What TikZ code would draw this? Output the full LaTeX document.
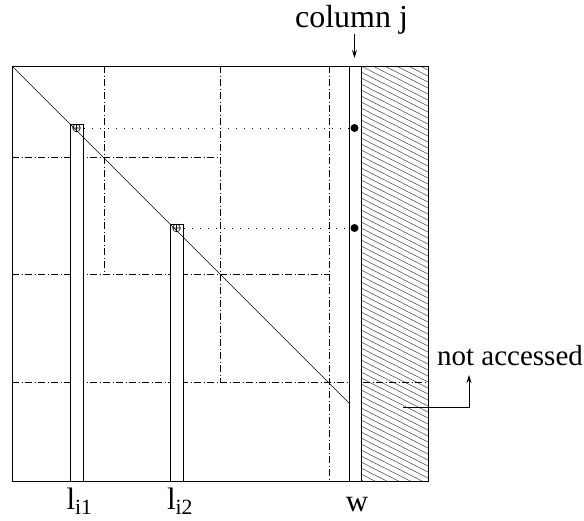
\documentclass[tikz,border=0pt]{standalone}
\usepackage{fontspec}
\setmainfont{Liberation Serif}
\usetikzlibrary{arrows.meta, positioning}

\begin{document}
\begin{tikzpicture}[x=1pt, y=-1pt, every node/.style={inner sep=0pt},
    blockline/.style={line width=0.8pt, dash pattern=on 7pt off 2.5pt on 1pt off 2.5pt},
    rowline/.style={line width=0.8pt, dash pattern=on 1pt off 7pt},
    strip/.style={draw, line width=0.9pt},
    lbl/.style={font=\fontsize{31}{36}\selectfont, anchor=base}]
        \useasboundingbox (0,0) rectangle (584,520);

        % not accessed part
        \begin{scope}
          \clip (361,66) rectangle (428,481);
          \foreach \y in {30,36,...,486}
            \draw[black!70, line width=0.55pt] (361,\y) -- (428,\y+34);
        \end{scope}

        % matrix and diagonal
        \draw[line width=1pt] (12,66) rectangle (428,481);
        \draw[line width=0.7pt] (12,66) -- (349,403);

        % blocks
        \draw[blockline] (104,66) -- (104,274);
        \draw[blockline] (220,66) -- (220,382);
        \draw[blockline] (329,66) -- (329,481);
        \draw[blockline] (12,157) -- (220,157);
        \draw[blockline] (12,274) -- (329,274);
        \draw[blockline] (12,382) -- (428,382);

        % columns
        \draw[strip, fill=white] (70,124) rectangle (83,481);
        \draw[strip, fill=white] (170,224) rectangle (183,481);
        \draw[strip, fill=white] (349,66) rectangle (361,481);
        \draw[line width=0.7pt] (70,124) -- (83,137) (170,224) -- (183,237);

        \draw[line width=0.6pt] (76.5,128) circle (3.8) (72.7,128) -- (80.3,128) (76.5,124.2) -- (76.5,131.8);
        \draw[line width=0.6pt] (176.5,228) circle (3.8) (172.7,228) -- (180.3,228) (176.5,224.2) -- (176.5,231.8);

        \draw[rowline] (84,128) -- (351,128);
        \draw[rowline] (184,228) -- (351,228);
        \fill (354.5,128) circle (4);
        \fill (354.5,228) circle (4);

        % labels
        \node[lbl] (li1) at (79.5,509) {l\textsubscript{i1}};
        \node[lbl] (li2) at (180,509) {l\textsubscript{i2}};
        \node[lbl] (w) at (357,511) {w};
        \node[lbl, font=\fontsize{32}{36}\selectfont] (colj) at (351.5,27) {column j};
        \node[lbl, font=\fontsize{29}{34}\selectfont] (notacc) at (510,365) {not accessed};

        \coordinate (jtop) at (354.5,58);
        \coordinate (hatchpt) at (403,407);
        \coordinate (natip) at (469,375);
        \draw[line width=0.8pt, -{Stealth[length=8pt, width=5pt]}] (colj.south -| jtop) -- (jtop);
        \draw[line width=0.8pt, -{Stealth[length=8pt, width=5pt]}] (hatchpt) -| (natip);
      \end{tikzpicture}
\end{document}
